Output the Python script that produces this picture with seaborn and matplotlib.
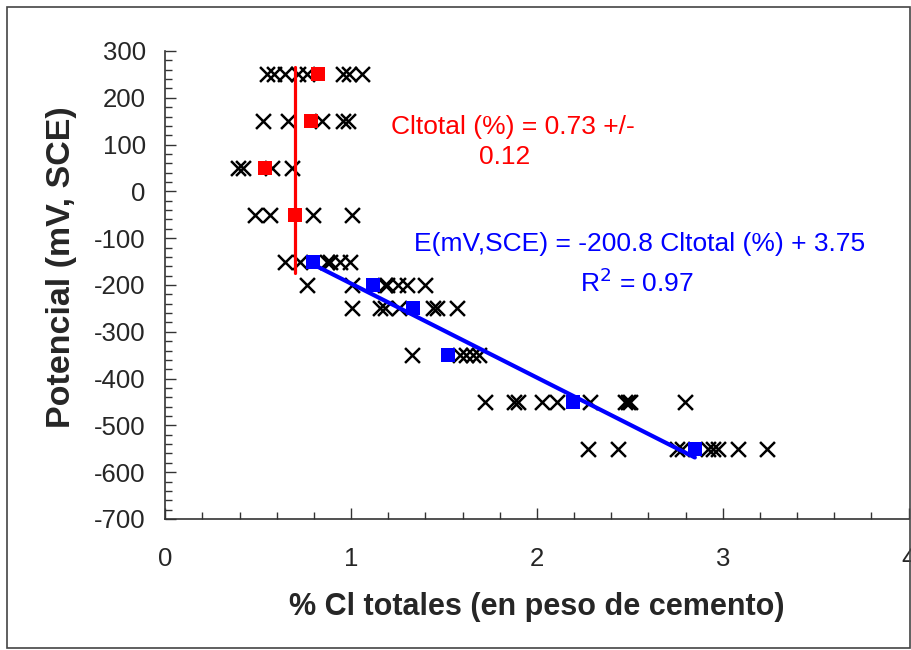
import matplotlib
matplotlib.use("Agg")
import matplotlib.pyplot as plt
import seaborn as sns
import pandas as pd
import numpy as np
from matplotlib.patches import Rectangle
from matplotlib.ticker import MultipleLocator

# ---------------- data ----------------
# individual measurements (% Cl totales) grouped by potential level (mV, SCE)
cl_p250 = [0.55, 0.585, 0.645, 0.715, 0.76, 0.955, 0.99, 1.06]
cl_p150 = [0.525, 0.66, 0.845, 0.955, 0.985]
cl_p50 = [0.39, 0.42, 0.575, 0.68]
cl_m50 = [0.485, 0.565, 0.795, 1.005]
cl_m150 = [0.645, 0.725, 0.87, 0.885, 0.94, 0.995]
cl_m200 = [0.765, 1.005, 1.18, 1.195, 1.25, 1.30, 1.40]
cl_m250 = [1.005, 1.155, 1.18, 1.26, 1.44, 1.46, 1.57]
cl_m350 = [1.33, 1.585, 1.62, 1.655, 1.69]
cl_m450 = [1.72, 1.875, 1.90, 2.03, 2.11, 2.285, 2.475, 2.49, 2.50, 2.795]
cl_m550 = [2.275, 2.435, 2.755, 2.78, 2.92, 2.95, 2.975, 3.08, 3.24]
potential_levels = [250, 150, 50, -50, -150, -200, -250, -350, -450, -550]

# mean values
red_potential = [250, 150, 50, -50]
red_cl = [0.82, 0.785, 0.535, 0.70]
blue_potential = [-150, -200, -250, -350, -450, -550]
blue_cl = [0.795, 1.12, 1.335, 1.52, 2.195, 2.85]

# threshold line and regression
threshold_cl = 0.70
threshold_range = [-175, 265]
reg_slope = -200.8
reg_intercept = 3.75

x_ticks = [0, 1, 2, 3, 4]
y_ticks = [300, 200, 100, 0, -100, -200, -300, -400, -500, -600, -700]

# ---------------- build tables ----------------
groups = [cl_p250, cl_p150, cl_p50, cl_m50, cl_m150, cl_m200, cl_m250,
          cl_m350, cl_m450, cl_m550]
rows = []
for lev, vals in zip(potential_levels, groups):
    for v in vals:
        rows.append((v, lev))
df_pts = pd.DataFrame(rows, columns=["cl", "E"])
df_red = pd.DataFrame({"cl": red_cl, "E": red_potential})
df_blue = pd.DataFrame({"cl": blue_cl, "E": blue_potential})
xr = np.array([min(blue_cl), max(blue_cl)])
df_reg = pd.DataFrame({"cl": xr, "E": reg_slope * xr + reg_intercept})
df_thr = pd.DataFrame({"cl": [threshold_cl, threshold_cl], "E": threshold_range})

# ---------------- plot ----------------
sns.set_style("white")
plt.rcParams["font.family"] = ["Liberation Sans", "DejaVu Sans"]
plt.rcParams["axes.unicode_minus"] = False

W, H = 911, 650
fig = plt.figure(figsize=(W / 100, H / 100), dpi=100)
ax = fig.add_axes([165.3 / W, 1 - 519 / H, (908.5 - 165.3) / W, (519 - 51) / H])

sns.scatterplot(data=df_pts, x="cl", y="E", marker="x", color="black",
                s=115, linewidth=1.8, ax=ax, zorder=2)
sns.lineplot(data=df_thr, x="cl", y="E", color="#ff0000", linewidth=2.3,
             ax=ax, zorder=3, sort=False, estimator=None)
sns.lineplot(data=df_reg, x="cl", y="E", color="#0000ff", linewidth=3.0,
             ax=ax, zorder=3, estimator=None)
sns.scatterplot(data=df_red, x="cl", y="E", marker="s", color="#ff0000",
                s=105, linewidth=0, ax=ax, zorder=4)
sns.scatterplot(data=df_blue, x="cl", y="E", marker="s", color="#0000ff",
                s=105, linewidth=0, ax=ax, zorder=4)

ax.set_xlim(0, 4)
ax.set_ylim(-700, 300)
ax.set_xticks(x_ticks)
ax.set_yticks(y_ticks)
ax.xaxis.set_minor_locator(MultipleLocator(0.2))
ax.yaxis.set_minor_locator(MultipleLocator(20))
ax.tick_params(axis="both", which="both", bottom=True, left=True,
               top=False, right=False)
ax.tick_params(axis="both", which="major", direction="in", length=8,
               width=1, color="#333333", labelsize=18.5)
ax.tick_params(axis="both", which="minor", direction="in", length=5,
               width=1, color="#333333")
ax.tick_params(axis="y", which="major", pad=14)
ax.tick_params(axis="x", which="major", pad=20)
for s in ["top", "right"]:
    ax.spines[s].set_visible(False)
for s in ["left", "bottom"]:
    ax.spines[s].set_color("#333333")
    ax.spines[s].set_linewidth(1.2)

ax.set_xlabel("")
ax.set_ylabel("")
fig.text(537 / W, 1 - 607 / H, "% Cl totales (en peso de cemento)",
         ha="center", va="center", fontsize=22, fontweight="bold")
fig.text(62 / W, 1 - 267 / H, "Potencial (mV, SCE)", rotation=90,
         ha="center", va="center", fontsize=24.5, fontweight="bold")

fig.text(513 / W, 1 - 127 / H, "Cltotal (%) = 0.73 +/-", ha="center",
         va="center", fontsize=19, color="#ff0000")
fig.text(505 / W, 1 - 157 / H, "0.12", ha="center", va="center",
         fontsize=19, color="#ff0000")
fig.text(640 / W, 1 - 244 / H, "E(mV,SCE) = -200.8 Cltotal (%) + 3.75",
         ha="center", va="center", fontsize=19, color="#0000ff")
fig.text(637 / W, 1 - 283 / H, "R$^{2}$ = 0.97", ha="center", va="center",
         fontsize=19, color="#0000ff")

fig.patches.append(Rectangle((7 / W, 2 / H), 903 / W, 641 / H,
                             transform=fig.transFigure, fill=False,
                             edgecolor="#444444", linewidth=1.2))

fig.savefig("out.png", dpi=100)
